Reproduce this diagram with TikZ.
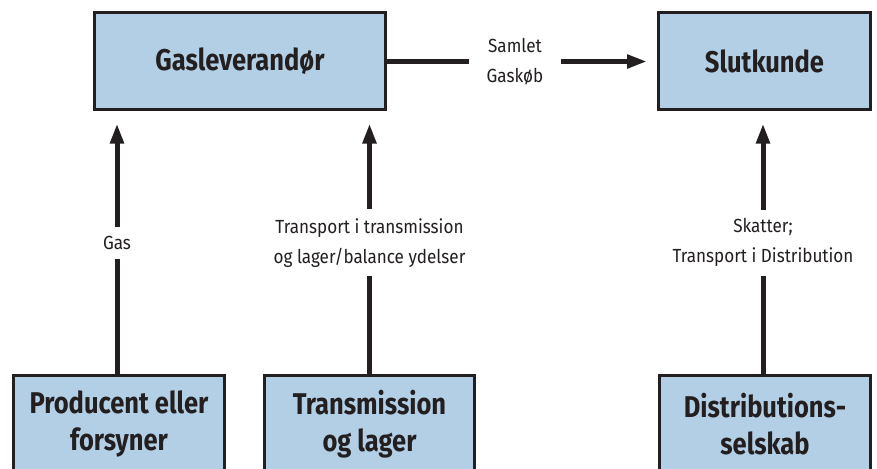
\documentclass[tikz,border=0pt]{standalone}
\usepackage{fontspec}
\setmainfont{Fira Sans}[FakeStretch=0.9]
\newfontfamily\titlefont{Fira Sans}[FakeStretch=0.85]
\usetikzlibrary{arrows.meta}
\definecolor{boxblue}{RGB}{179,207,229}
\definecolor{ink}{RGB}{35,31,32}
\tikzset{
    box/.style={draw=ink,line width=3pt,fill=boxblue,text=ink,align=center,minimum height=97pt,font=\titlefont\fontsize{30}{37}\selectfont\bfseries},
    flow/.style={draw=ink,line width=5pt,-{Triangle[length=20pt,width=13pt]}},
    lbl/.style={fill=white,text=ink,align=center,inner xsep=18pt,inner ysep=9pt,font=\fontsize{19}{30}\selectfont}
}
\begin{document}
\begin{tikzpicture}[x=1pt,y=-1pt]
    \useasboundingbox(0,0)rectangle(877,468);
    \node[box,minimum width=291pt](gas)at(240,61.5){Gasleverandør};
    \node[box,minimum width=212pt](slut)at(764.5,61.5){Slutkunde};
    \node[box,minimum width=211pt](prod)at(119,424){Producent eller\\forsyner};
    \node[box,minimum width=210pt](trans)at(369.5,424){Transmission\\og lager};
    \node[box,minimum width=211pt](dist)at(765,424){Distributions-\\selskab};
    \draw[flow,shorten >=10pt](gas.east)--(slut.west)node[lbl,midway,xshift=-7pt]{Samlet\\Gaskøb};
    \draw[flow,shorten >=12pt]([xshift=-2pt]prod.north)--([xshift=-2pt]prod.north|-gas.south)node[lbl,midway]{Gas};
    \draw[flow,shorten >=12pt](trans.north)--(trans.north|-gas.south)node[lbl,midway]{Transport i transmission\\og lager/balance ydelser};
    \draw[flow,shorten >=12pt]([xshift=-2pt]dist.north)--([xshift=-2pt]dist.north|-slut.south)node[lbl,midway]{Skatter;\\Transport i Distribution};
\end{tikzpicture}
\end{document}
